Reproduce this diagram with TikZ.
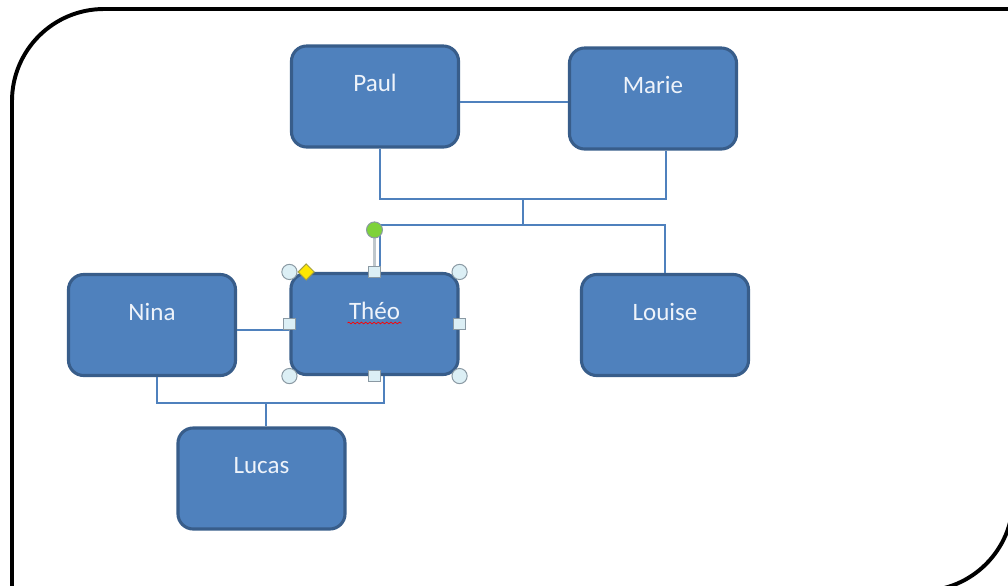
\documentclass[tikz,border=0pt]{standalone}
\usepackage{fontspec}
\setmainfont{Carlito}
\usetikzlibrary{calc,decorations.pathmorphing}
\definecolor{boxfill}{HTML}{4F81BD}
\definecolor{boxline}{HTML}{385D8A}
\definecolor{boxtext}{HTML}{EEF3FA}
\definecolor{gripfill}{HTML}{DCEFF5}
\definecolor{gripline}{HTML}{8A99A3}
\definecolor{rotfill}{HTML}{7ED23A}
\begin{document}
\begin{tikzpicture}[x=0.025cm, y=-0.025cm,
    person/.style={rectangle, rounded corners=0.38cm, fill=boxfill, draw=boxline,
      line width=2.2pt, inner sep=0pt, text width=4.175cm, align=center,
      text height=1.14cm, text depth=1.385cm, text=boxtext,
      font=\fontsize{17.8}{20}\selectfont},
    link/.style={draw=boxfill, line width=1.1pt},
    frame/.style={line width=2.8pt, rounded corners=2.3cm},
    grip/.style={fill=gripfill, draw=gripline, line width=0.7pt}]
  \useasboundingbox (0,0) rectangle (1008,586);

  % frame, rounded at top left and bottom right only
  \draw [frame] (12,640) -- (12,9) -- (1060,9);
  \draw [frame] (1013,-40) -- (1013,591) -- (-40,591);

  % persons
  \node [person] (paul) at (375,96.5) {Paul};
  \node [person] (marie) at (653,98.5) {Marie};
  \node [person] (theo) at (374.5,324) {Théo};
  \node [person] (nina) at (152,325) {Nina};
  \node [person] (louise) at (665,325) {Louise};
  \node [person] (lucas) at (261.5,478.5) {Lucas};

  \coordinate (parents) at (523,199);
  \coordinate (children) at (523,225);
  \coordinate (couple) at (266,403);

  % Paul + Marie
  \draw [link] ([yshift=-0.14cm]paul.east) -- ([yshift=-0.14cm]paul.east -| marie.west);
  \draw [link] ([xshift=0.125cm]paul.south) |- (parents) -| ([xshift=0.325cm]marie.south);
  \draw [link] (parents) -- (children);
  \draw [link] ([xshift=0.14cm]theo.north) |- (children) -| (louise.north);

  % Nina + Théo
  \draw [link] ([yshift=-0.125cm]nina.east) -- ([yshift=-0.125cm]nina.east -| theo.west);
  \draw [link] ([xshift=0.125cm]nina.south) |- (couple) -| ([xshift=0.24cm]theo.south);
  \draw [link] (couple) -- (couple |- lucas.north);

  % selection of Théo
  \draw [red, line width=0.5pt, decorate, decoration={snake, amplitude=0.6pt, segment length=3pt}]
    ($(theo.center)+(-27,-1)$) -- ++(54,0);
  \draw [line width=2.4pt, draw=gripline!55] (theo.north) -- ++(0,-42);
  \draw [grip, fill=rotfill] ($(theo.north)+(0,-42)$) circle (0.2cm);
  \foreach \a in {north west, north east, south west, south east}
    \draw [grip] (theo.\a) circle (0.19cm);
  \foreach \a in {north, south, east, west}
    \draw [grip] ([shift={(-0.14cm,-0.14cm)}]theo.\a) rectangle ++(0.28cm,0.28cm);
  \draw [grip, fill=yellow!90!orange, draw=yellow!60!black]
    ([xshift=0.22cm]theo.north west) -- ++(8,-8) -- ++(8,8) -- ++(-8,8) -- cycle;
\end{tikzpicture}
\end{document}
